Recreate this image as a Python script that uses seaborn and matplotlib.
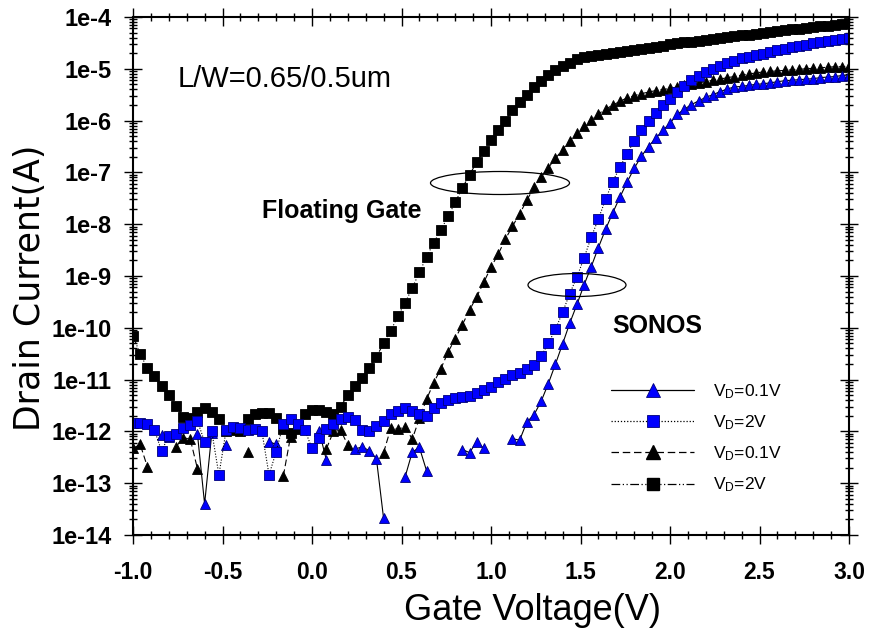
import numpy as np
import pandas as pd
import matplotlib
matplotlib.use("Agg")
import matplotlib.pyplot as plt
from matplotlib.lines import Line2D
from matplotlib.patches import Ellipse
from matplotlib import font_manager
from matplotlib.ticker import FixedLocator, LogLocator, MultipleLocator, NullFormatter
import seaborn as sns

nan = np.nan

# ---------------- data (log10 of drain current, A) ----------------
gate_voltage = np.linspace(-1.0, 3.0, 101)

fg_vd2_log = [
    -10.16, -10.50, -10.78, -10.94, -11.13, -11.30, -11.50, -11.72, -11.74, -11.62,
    -11.55, -11.62, -11.76, -12.00, -11.98, -12.00, -11.77, -11.66, -11.65, -11.64,
    -11.75, -11.96, -12.03, -11.90, -11.66, -11.59, -11.59, -11.63, -11.66, -11.52,
    -11.30, -11.12, -10.96, -10.78, -10.56, -10.30, -10.06, -9.77, -9.52, -9.23,
    -8.93, -8.63, -8.36, -8.11, -7.85, -7.58, -7.30, -7.05, -6.80, -6.59,
    -6.38, -6.19, -6.00, -5.80, -5.64, -5.50, -5.36, -5.24, -5.12, -5.03,
    -4.95, -4.88, -4.81, -4.78, -4.76, -4.74, -4.72, -4.70, -4.68, -4.66,
    -4.64, -4.62, -4.60, -4.58, -4.56, -4.53, -4.51, -4.49, -4.48, -4.46,
    -4.44, -4.43, -4.41, -4.39, -4.37, -4.35, -4.34, -4.32, -4.30, -4.29,
    -4.27, -4.26, -4.24, -4.23, -4.21, -4.20, -4.18, -4.17, -4.15, -4.14,
    -4.12]

fg_vd01_log = [
    -12.33, -12.25, -12.68, nan, nan, nan, -12.30, -12.12, -12.15, -12.72,
    nan, nan, nan, nan, nan, nan, -12.39, nan, nan, nan,
    nan, -12.86, -12.10, -11.96, nan, nan, nan, -12.34, -12.00, -11.98,
    -12.26, nan, nan, nan, nan, -12.41, -11.94, -11.96, -11.91, -12.15,
    -11.75, -11.38, -11.06, -10.79, -10.47, -10.21, -9.94, -9.66, -9.40, -9.12,
    -8.83, -8.58, -8.29, -8.04, -7.80, -7.54, -7.29, -7.09, -6.91, -6.73,
    -6.56, -6.39, -6.24, -6.10, -5.98, -5.87, -5.78, -5.70, -5.63, -5.56,
    -5.52, -5.48, -5.45, -5.42, -5.40, -5.38, -5.35, -5.32, -5.30, -5.27,
    -5.25, -5.22, -5.20, -5.17, -5.15, -5.12, -5.10, -5.08, -5.06, -5.05,
    -5.04, -5.03, -5.02, -5.01, -5.00, -4.99, -4.98, -4.97, -4.96, -4.96,
    -4.95]

sonos_vd2_log = [
    -11.84, -11.84, -11.85, -11.98, -12.38, -12.08, -12.05, -11.94, -11.88, -11.80,
    -12.20, -12.00, -12.84, -11.98, -11.91, -11.93, -11.98, -11.95, -12.00, -12.84,
    -12.39, -11.85, -11.77, -11.85, -11.97, -12.33, -12.13, -11.95, -11.86, -11.76,
    -11.73, -11.78, -11.98, -12.00, -11.90, -11.80, -11.66, -11.60, -11.55, -11.60,
    -11.66, -11.70, -11.55, -11.46, -11.39, -11.35, -11.34, -11.32, -11.25, -11.21,
    -11.14, -11.05, -10.98, -10.92, -10.87, -10.80, -10.72, -10.55, -10.30, -10.03,
    -9.70, -9.34, -9.02, -8.65, -8.25, -7.90, -7.52, -7.18, -6.90, -6.64,
    -6.39, -6.19, -6.01, -5.85, -5.70, -5.58, -5.45, -5.33, -5.22, -5.13,
    -5.06, -5.00, -4.94, -4.89, -4.84, -4.80, -4.77, -4.74, -4.71, -4.67,
    -4.64, -4.61, -4.58, -4.56, -4.54, -4.51, -4.49, -4.47, -4.45, -4.43,
    -4.41]

sonos_vd01_log = [
    nan, nan, nan, nan, -12.06, -12.11, nan, nan, nan, -12.05,
    -13.40, -12.04, nan, -12.26, nan, nan, nan, nan, nan, -12.20,
    -12.25, nan, nan, nan, nan, nan, -11.99, -12.55, nan, nan,
    nan, -12.34, -12.30, -12.37, -12.53, -13.68, nan, nan, -12.88, -12.40,
    -12.31, -12.76, nan, nan, nan, nan, -12.35, -12.41, -12.20, -12.33,
    nan, nan, nan, -12.14, -12.17, -11.82, -11.68, -11.42, -11.08, -10.70,
    -10.31, -9.91, -9.55, -9.17, -8.82, -8.45, -8.10, -7.78, -7.48, -7.19,
    -6.92, -6.69, -6.50, -6.34, -6.19, -6.05, -5.88, -5.78, -5.69, -5.62,
    -5.55, -5.50, -5.44, -5.39, -5.35, -5.34, -5.32, -5.30, -5.29, -5.27,
    -5.25, -5.23, -5.22, -5.21, -5.20, -5.19, -5.17, -5.16, -5.15, -5.13,
    -5.12]

x_ticks = [-1.0, -0.5, 0.0, 0.5, 1.0, 1.5, 2.0, 2.5, 3.0]
x_tick_labels = ["-1.0", "-0.5", "0.0", "0.5", "1.0", "1.5", "2.0", "2.5", "3.0"]
y_ticks = [1e-14, 1e-13, 1e-12, 1e-11, 1e-10, 1e-9, 1e-8, 1e-7, 1e-6, 1e-5, 1e-4]
y_tick_labels = ["1e-14", "1e-13", "1e-12", "1e-11", "1e-10", "1e-9",
                 "1e-8", "1e-7", "1e-6", "1e-5", "1e-4"]
legend_labels = ["V$_D$=0.1V", "V$_D$=2V", "V$_D$=0.1V", "V$_D$=2V"]

# ---------------- style ----------------
sns.set_style("ticks")
names = {f.name for f in font_manager.fontManager.ttflist}
narrow = "Liberation Sans Narrow" if "Liberation Sans Narrow" in names else "Liberation Sans"
plt.rcParams["font.family"] = ["Liberation Sans", "DejaVu Sans"]
plt.rcParams["mathtext.default"] = "regular"
for k in ["text.color", "axes.labelcolor", "xtick.color", "ytick.color", "axes.edgecolor"]:
    plt.rcParams[k] = "black"

W, H = 869, 643
fig = plt.figure(figsize=(W / 100, H / 100), dpi=100)
ax = fig.add_axes([133 / W, 1 - 535 / H, 716 / W, 518 / H])


def fx(px):
    return px / W


def fy(py):
    return 1 - py / H


def to_frame(log_vals):
    y = np.array(log_vals, dtype=float)
    seg = np.cumsum(np.isnan(y))
    df = pd.DataFrame({"V": gate_voltage, "I": 10.0 ** y, "seg": seg})
    return df.dropna()


blue = "#0000ff"
blue_edge = "#00007a"
curves = [
    # data, marker, face, edge, ms, linestyle
    (fg_vd2_log, "s", "black", "black", 7.0, (0, (7, 2, 1, 2, 1, 2))),
    (fg_vd01_log, "^", "black", "black", 7.8, (0, (6, 3))),
    (sonos_vd01_log, "^", blue, blue_edge, 7.8, "-"),
    (sonos_vd2_log, "s", blue, blue_edge, 7.0, (0, (1, 1.5))),
]
for vals, mk, fc, ec, ms, ls in curves:
    d = to_frame(vals)
    sns.lineplot(data=d, x="V", y="I", units="seg", estimator=None, sort=False,
                 ax=ax, color="black", linewidth=0.8, linestyle=ls,
                 marker=mk, markersize=ms, markerfacecolor=fc,
                 markeredgecolor=ec, markeredgewidth=0.6, legend=False)

ax.set_yscale("log")
ax.set_xlim(-1.0, 3.0)
ax.set_ylim(1e-14, 1e-4)
ax.set_xlabel("")
ax.set_ylabel("")

ax.set_xticks(x_ticks)
ax.set_xticklabels(x_tick_labels, family=[narrow, "Liberation Sans"],
                   fontweight="bold", fontsize=18 if narrow != "Liberation Sans" else 16.5)
ax.xaxis.set_minor_locator(MultipleLocator(0.1))
ax.yaxis.set_major_locator(FixedLocator(y_ticks))
ax.set_yticklabels(y_tick_labels, fontweight="bold", fontsize=17)
ax.yaxis.set_minor_locator(LogLocator(base=10, subs=np.arange(2, 10), numticks=100))
ax.yaxis.set_minor_formatter(NullFormatter())

ax.tick_params(which="both", direction="inout", top=True, right=True,
               color="black", width=1.0, labelcolor="black")
ax.tick_params(which="major", length=13)
ax.tick_params(which="minor", length=6)
ax.tick_params(axis="x", which="major", pad=12)
ax.tick_params(axis="y", which="major", pad=9)
for s in ax.spines.values():
    s.set_linewidth(1.5)
    s.set_color("black")

# axis titles
fig.text(fx(533), fy(610), "Gate Voltage(V)", ha="center", va="center",
         fontsize=26, color="black", family=["Liberation Sans", "DejaVu Sans"])
fig.text(fx(30), fy(288), "Drain Current(A)", ha="center", va="center",
         rotation=90, fontsize=25, color="black", family=["DejaVu Sans"])

# annotations
fig.text(fx(178), fy(79), "L/W=0.65/0.5um", ha="left", va="center",
         fontsize=21, color="black")
fig.text(fx(262), fy(211), "Floating Gate", ha="left", va="center",
         fontsize=18, fontweight="bold", color="black")
fig.text(fx(612), fy(326), "SONOS", ha="left", va="center",
         fontsize=18, fontweight="bold", color="black")

fig.add_artist(Ellipse((fx(500), fy(183)), 139 / W, 23 / H, transform=fig.transFigure,
                       fill=False, edgecolor="black", linewidth=0.9))
fig.add_artist(Ellipse((fx(577), fy(285)), 98 / W, 23 / H, transform=fig.transFigure,
                       fill=False, edgecolor="black", linewidth=0.9))

# legend
handles = [
    Line2D([], [], color="black", lw=0.9, ls="-", marker="^", ms=9.5,
           mfc=blue, mec=blue_edge, mew=0.6),
    Line2D([], [], color="black", lw=0.9, ls=(0, (1, 1.5)), marker="s", ms=8.5,
           mfc=blue, mec=blue_edge, mew=0.6),
    Line2D([], [], color="black", lw=0.9, ls=(0, (6, 3)), marker="^", ms=9.5,
           mfc="black", mec="black"),
    Line2D([], [], color="black", lw=0.9, ls=(0, (7, 2, 1, 2, 1, 2)), marker="s", ms=8.5,
           mfc="black", mec="black"),
]
leg = ax.legend(handles, legend_labels, loc="upper left",
                bbox_to_anchor=(fx(611), fy(382)), bbox_transform=fig.transFigure,
                frameon=False, fontsize=12.5, handlelength=4.8, handletextpad=1.1,
                labelspacing=0.72, borderpad=0, borderaxespad=0, numpoints=1)
for t in leg.get_texts():
    t.set_color("black")

fig.savefig("out.png", dpi=100, facecolor="white")
